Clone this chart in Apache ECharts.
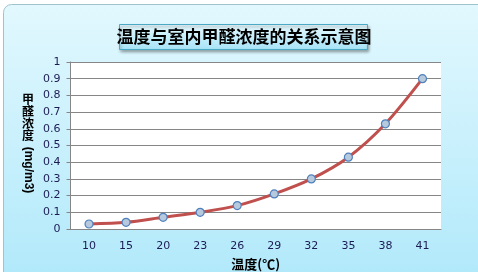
<!DOCTYPE html>
<html><head><meta charset="utf-8">
<script src="https://cdn.jsdelivr.net/npm/echarts@6/dist/echarts.min.js"></script>
<style>html,body{margin:0;padding:0;background:#fff}#c{width:478px;height:272px}</style>
</head><body><div id="c"></div>
<script>
const categories = ['10','15','20','23','26','29','32','35','38','41'];
const concentration = [0.03,0.04,0.07,0.10,0.14,0.21,0.30,0.43,0.63,0.90];
const titleText = '温度与室内甲醛浓度的关系示意图';
const yNameCJK = '甲\n醛\n浓\n度';
const yNameUnit = '(mg/m3)';
const xName = '温度(℃)';

const chart = echarts.init(document.getElementById('c'));
chart.setOption({
  animation:false,
  graphic:[
    {type:'rect',z:-10,shape:{x:3.5,y:4.5,width:490,height:290,r:8},
     style:{fill:new echarts.graphic.LinearGradient(0,0,0,1,[{offset:0,color:'#e2f8fe'},{offset:1,color:'#aee8fa'}]),stroke:'#9fc3cc',lineWidth:1}},
    {type:'rect',z:5,shape:{x:119.5,y:24.5,width:248,height:25},
     style:{fill:new echarts.graphic.LinearGradient(0,0,0,1,[{offset:0,color:'#e6f9fe'},{offset:1,color:'#a6e3f7'}]),stroke:'#4aa9c4',lineWidth:1,
       shadowBlur:3,shadowOffsetX:1,shadowOffsetY:2,shadowColor:'rgba(0,0,0,0.35)'}},
    {type:'text',z:6,x:244,y:37,style:{text:titleText,fill:'#000',font:'bold 17px "Noto Sans CJK SC"',textAlign:'center',textVerticalAlign:'middle'}},
    {type:'text',z:6,x:28,y:93,style:{text:yNameCJK,fill:'#000',font:'bold 12px "Noto Sans CJK SC"',lineHeight:12,textAlign:'center',textVerticalAlign:'top'}},
    {type:'text',z:6,x:28,y:170,rotation:-Math.PI/2,style:{text:yNameUnit,fill:'#000',font:'bold 12px "Liberation Sans"',textAlign:'center',textVerticalAlign:'middle'}}
  ],
  grid:{left:70.5,right:37,top:62,bottom:43,outerBoundsMode:'none',containLabel:false,backgroundColor:'#ffffff',show:true,borderWidth:0},
  xAxis:{type:'category',data:categories,boundaryGap:true,
    name:xName,nameLocation:'middle',nameGap:29,
    nameTextStyle:{fontFamily:'"Noto Sans CJK SC"',fontWeight:'bold',fontSize:13,color:'#000'},
    axisLine:{lineStyle:{color:'#868686',width:1}},axisTick:{show:false},
    axisLabel:{margin:12,color:'#1c1c55',fontFamily:'"DejaVu Sans"',fontSize:11}},
  yAxis:{type:'value',min:0,max:1,interval:0.1,
    axisLine:{show:true,lineStyle:{color:'#868686'}},
    axisTick:{show:true,inside:false,length:4,lineStyle:{color:'#868686'}},
    splitLine:{lineStyle:{color:'#868686',width:1}},
    axisLabel:{margin:10,color:'#1c1c55',fontFamily:'"DejaVu Sans"',fontSize:11,
      formatter:v=>String(Math.round(v*10)/10)}},
  series:[{type:'line',data:concentration,smooth:0.3,
    lineStyle:{color:'#c0504d',width:3},
    symbol:'circle',symbolSize:8,
    itemStyle:{color:'#b7c9dc',borderColor:'#4f81bd',borderWidth:1.2}}]
});
</script></body></html>
